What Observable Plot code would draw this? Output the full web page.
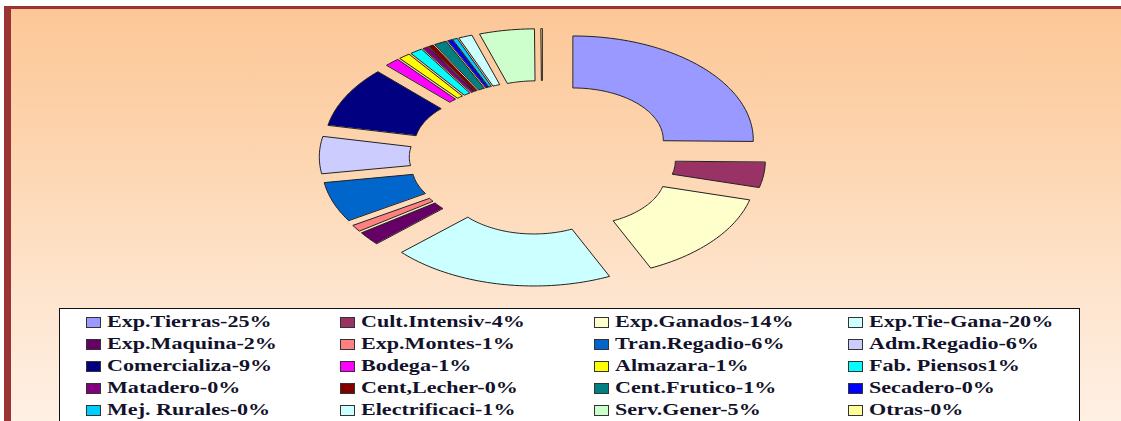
<!DOCTYPE html>
<html>
<head>
<meta charset="utf-8">
<script src="https://cdn.jsdelivr.net/npm/d3@7"></script>
<script src="https://cdn.jsdelivr.net/npm/@observablehq/plot@0.6"></script>
<style>
html, body { margin: 0; padding: 0; background: #fff; overflow: hidden; }
#wrap { position: relative; width: 1121px; height: 421px; overflow: hidden; background: #fff; }
#panel { position: absolute; left: 4px; top: 6px; right: 0; bottom: 0;
  border-top: 3px solid #9a3434; border-left: 7px solid #9a3434;
  background: linear-gradient(#fcc797 0%, #fdd5b0 35%, #fee5cf 70%, #fff0e4 100%); }
#chart { position: absolute; left: 0; top: 0; }
#legend { position: absolute; left: 59px; top: 308px; width: 1021px; height: 140px;
  background: #fff; border: 1px solid #111; box-sizing: border-box;
  display: grid; grid-template-columns: repeat(4, 254px); grid-auto-rows: 22px;
  padding-left: 26px; padding-top: 2px; }
.item { display: flex; align-items: center; white-space: nowrap; }
.sw { width: 13px; height: 9px; border: 1px solid #333; flex: none; margin-right: 6px; }
.lab { display: inline-block; font-family: "Liberation Serif", "Times New Roman", serif;
  font-weight: bold; font-size: 16px; color: #12122a; transform: scaleX(1.38);
  transform-origin: left center; }
</style>
</head>
<body>
<div id="wrap">
  <div id="panel"></div>
  <div id="chart"></div>
  <div id="legend"></div>
</div>
<script>
const categories = ["Exp.Tierras", "Cult.Intensiv", "Exp.Ganados", "Exp.Tie-Gana", "Exp.Maquina",
  "Exp.Montes", "Tran.Regadio", "Adm.Regadio", "Comercializa", "Bodega", "Almazara",
  "Fab. Piensos", "Matadero", "Cent,Lecher", "Cent.Frutico", "Secadero", "Mej. Rurales",
  "Electrificaci", "Serv.Gener", "Otras"];
const values = [25.2, 3.9, 14.0, 20.0, 2.1, 1.0, 6.2, 5.7, 9.4, 1.3, 1.0,
  1.1, 0.45, 0.45, 1.1, 0.4, 0.4, 1.2, 4.9, 0.1];
const labels = ["Exp.Tierras-25%", "Cult.Intensiv-4%", "Exp.Ganados-14%", "Exp.Tie-Gana-20%",
  "Exp.Maquina-2%", "Exp.Montes-1%", "Tran.Regadio-6%", "Adm.Regadio-6%",
  "Comercializa-9%", "Bodega-1%", "Almazara-1%", "Fab. Piensos1%",
  "Matadero-0%", "Cent,Lecher-0%", "Cent.Frutico-1%", "Secadero-0%",
  "Mej. Rurales-0%", "Electrificaci-1%", "Serv.Gener-5%", "Otras-0%"];
const colors = ["#9999ff", "#993366", "#ffffcc", "#ccffff", "#660066", "#ff8080", "#0066cc",
  "#ccccff", "#000080", "#ff00ff", "#ffff00", "#00ffff", "#800080", "#800000", "#008080",
  "#0000ff", "#00ccff", "#ccffff", "#ccffcc", "#ffff99"];

// donut geometry (unit coordinates; the scales stretch it)
const R = 1, r = 0.5, explode = 0.24;
const arcs = d3.pie().sort(null).startAngle(0).endAngle(2 * Math.PI)(values);
const pts = [];
arcs.forEach((a, i) => {
  const mid = (a.startAngle + a.endAngle) / 2;
  const ox = explode * Math.sin(mid), oy = explode * Math.cos(mid);
  const n = Math.max(2, Math.ceil((a.endAngle - a.startAngle) / (Math.PI / 120)));
  for (let k = 0; k <= n; k++) {
    const t = a.startAngle + (a.endAngle - a.startAngle) * k / n;
    pts.push({name: categories[i], x: ox + R * Math.sin(t), y: oy + R * Math.cos(t)});
  }
  for (let k = n; k >= 0; k--) {
    const t = a.startAngle + (a.endAngle - a.startAngle) * k / n;
    pts.push({name: categories[i], x: ox + r * Math.sin(t), y: oy + r * Math.cos(t)});
  }
});

const plot = Plot.plot({
  width: 1121, height: 421, margin: 0,
  style: {background: "transparent"},
  x: {domain: [-1, 1], range: [362, 722], axis: null},
  y: {domain: [-1, 1], range: [261, 53], axis: null},
  color: {domain: categories, range: colors},
  marks: [
    Plot.line(pts, {x: "x", y: "y", z: "name", fill: "name", stroke: "#222",
      strokeWidth: 1, curve: "linear-closed"})
  ]
});
document.getElementById("chart").appendChild(plot);

const leg = document.getElementById("legend");
categories.forEach((c, i) => {
  const it = document.createElement("div");
  it.className = "item";
  const sw = document.createElement("span");
  sw.className = "sw";
  sw.style.background = colors[i];
  const lb = document.createElement("span");
  lb.className = "lab";
  lb.textContent = labels[i];
  it.appendChild(sw); it.appendChild(lb);
  leg.appendChild(it);
});
</script>
</body>
</html>
